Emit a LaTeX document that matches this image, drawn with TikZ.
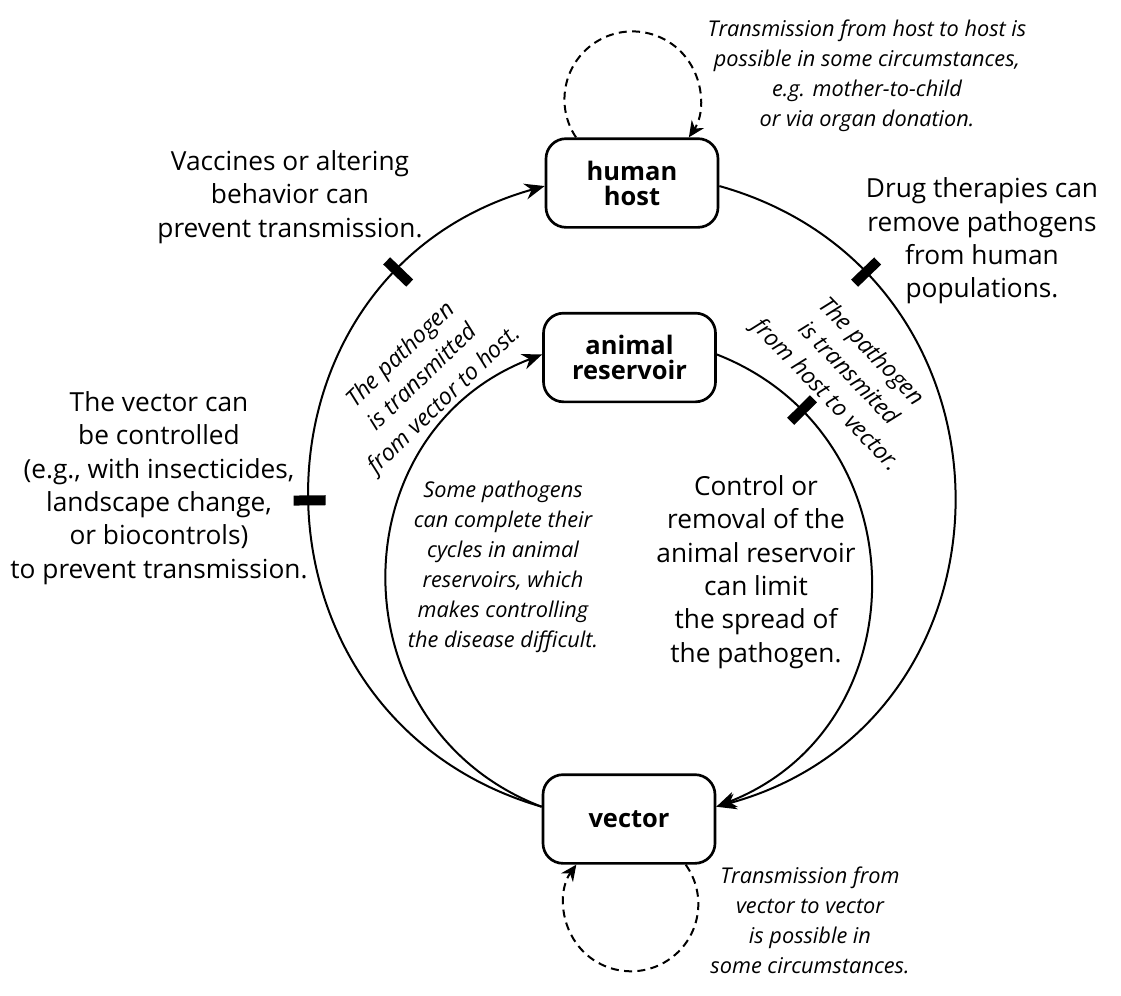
\documentclass[tikz,border=0pt]{standalone}
\usepackage{fontspec}
\setmainfont{Open Sans}
\usetikzlibrary{arrows.meta}
\tikzset{
  box/.style={draw, line width=2pt, rounded corners=15pt, minimum width=129pt, minimum height=66.5pt,
    inner sep=0pt, align=center, font=\bfseries\fontsize{19.1}{18.75}\selectfont},
  conn/.style={line width=1.5pt, -{Stealth[length=15pt,width=12pt]}},
  dloop/.style={line width=1.5pt, dash pattern=on 6pt off 4pt, -{Stealth[length=12pt,width=11pt]}},
  bar/.style={sloped, fill=black, inner sep=0pt, minimum width=7.5pt, minimum height=24pt},
  lbl/.style={align=center, inner sep=0pt, font=\fontsize{19.7}{25}\selectfont},
  itl/.style={align=center, inner sep=0pt, font=\itshape\fontsize{16.3}{22.5}\selectfont},
  rotl/.style={align=center, inner sep=0pt, font=\itshape\fontsize{17.4}{23.5}\selectfont},
}
\begin{document}
\begin{tikzpicture}[x=0.75pt,y=0.75pt]
\useasboundingbox[fill=white] (0,0) rectangle (1121,-996);
% boxes
\node[box] (host) at (632,-183) {human\\host};
\node[box] (ani) at (629.5,-357.5) {animal\\reservoir};
\node[box] (vec) at (629,-819) {vector};
% outer cycle
\draw[conn] (vec.172) to[out=163.8,in=195.7,looseness=1.333]
   node[bar,pos=0.4937]{} node[bar,pos=0.806]{} (host.182);
\draw[conn] (host.-2) to[out=-15.7,in=15.2,looseness=1.345]
   node[bar,pos=0.193]{} (vec.8);
% inner cycle
\draw[conn] (vec.172) to[out=159.05,in=200.9,looseness=1.255] (ani.178);
\draw[conn] (ani.2) to[out=-21.4,in=21.2,looseness=1.25]
   node[bar,pos=0.166]{} (vec.8);
% self loops
\draw[dloop] ([xshift=-42pt]host.north) arc[start angle=213.9, end angle=-33.9, radius=51pt];
\draw[dloop] ([xshift=42.5pt]vec.south) arc[start angle=35.7, end angle=-215.7, radius=50.5pt];
% texts
\node[lbl] (tvacc) at (290,-197) {Vaccines or altering\\behavior can\\prevent transmission.};
\node[lbl] (tdrug) at (982,-241) {Drug therapies can\\remove pathogens\\from human\\populations.};
\node[lbl] (tvctl) at (159,-488) {The vector can\\be controlled\\(e.g., with insecticides,\\landscape change,\\or biocontrols)\\to prevent transmission.};
\node[lbl] (tctrl) at (756,-572) {Control or\\removal of the\\animal reservoir\\can limit\\the spread of\\the pathogen.};
\node[itl] (thh) at (867,-76) {Transmission from host to host is\\possible in some circumstances,\\e.g. mother-to-child\\or via organ donation.};
\node[itl] (tsome) at (503,-567) {Some pathogens\\can complete their\\cycles in animal\\reservoirs, which\\makes controlling\\the disease difficult.};
\node[itl] (tvv) at (810,-920) {Transmission from\\vector to vector\\is possible in\\some circumstances.};
\node[rotl, rotate=44] (tv2h) at (423,-378) {The pathogen\\is transmitted\\from vector to host.};
\node[rotl, rotate=-46] (th2v) at (848,-374) {The pathogen\\is transmited\\from host to vector.};
\end{tikzpicture}
\end{document}
